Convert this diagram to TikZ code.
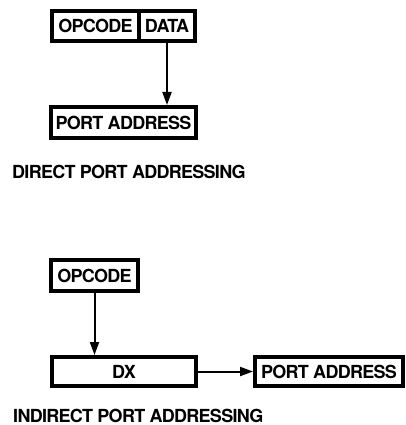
\documentclass[tikz,border=0pt]{standalone}
\usepackage{fontspec}
\setmainfont{TeX Gyre Heros}[LetterSpace=-4]
\usetikzlibrary{arrows.meta}

\tikzset{
  regbox/.style={draw,line width=4pt,inner sep=0pt,minimum height=30pt,
    font=\fontsize{18}{20}\selectfont\bfseries},
  caption/.style={anchor=base west,inner sep=0pt,
    font=\fontsize{18}{20}\selectfont\bfseries},
  link/.style={line width=2pt,-{Triangle[length=13pt,width=9pt]}}
}

\begin{document}
\begin{tikzpicture}[x=1pt,y=-1pt]
  \useasboundingbox (0,0) rectangle (406,425);
  % direct
  \node[regbox,minimum width=87pt] (opA) at (95.5,26) {OPCODE};
  \node[regbox,minimum width=56pt] (data) at (167,26) {DATA};
  \node[regbox,minimum width=145pt,minimum height=31pt] (portA) at (123.5,122.5) {PORT ADDRESS};
  \draw[link] (data.south) -- (data.south |- portA.north);
  \node[caption] (capA) at (12,178) {DIRECT PORT ADDRESSING};
  % indirect
  \node[regbox,minimum width=87pt,minimum height=31pt] (opB) at (94.5,275.5) {OPCODE};
  \node[regbox,minimum width=144pt,minimum height=29pt] (dx) at (124,371.5) {DX};
  \node[regbox,minimum width=148pt,minimum height=29pt] (portB) at (329,371.5) {PORT ADDRESS};
  \draw[link] (opB.south) -- (opB.south |- dx.north);
  \draw[link] (dx.east) -- (portB.west);
  \node[caption] (capB) at (13,422) {INDIRECT PORT ADDRESSING};
\end{tikzpicture}
\end{document}
